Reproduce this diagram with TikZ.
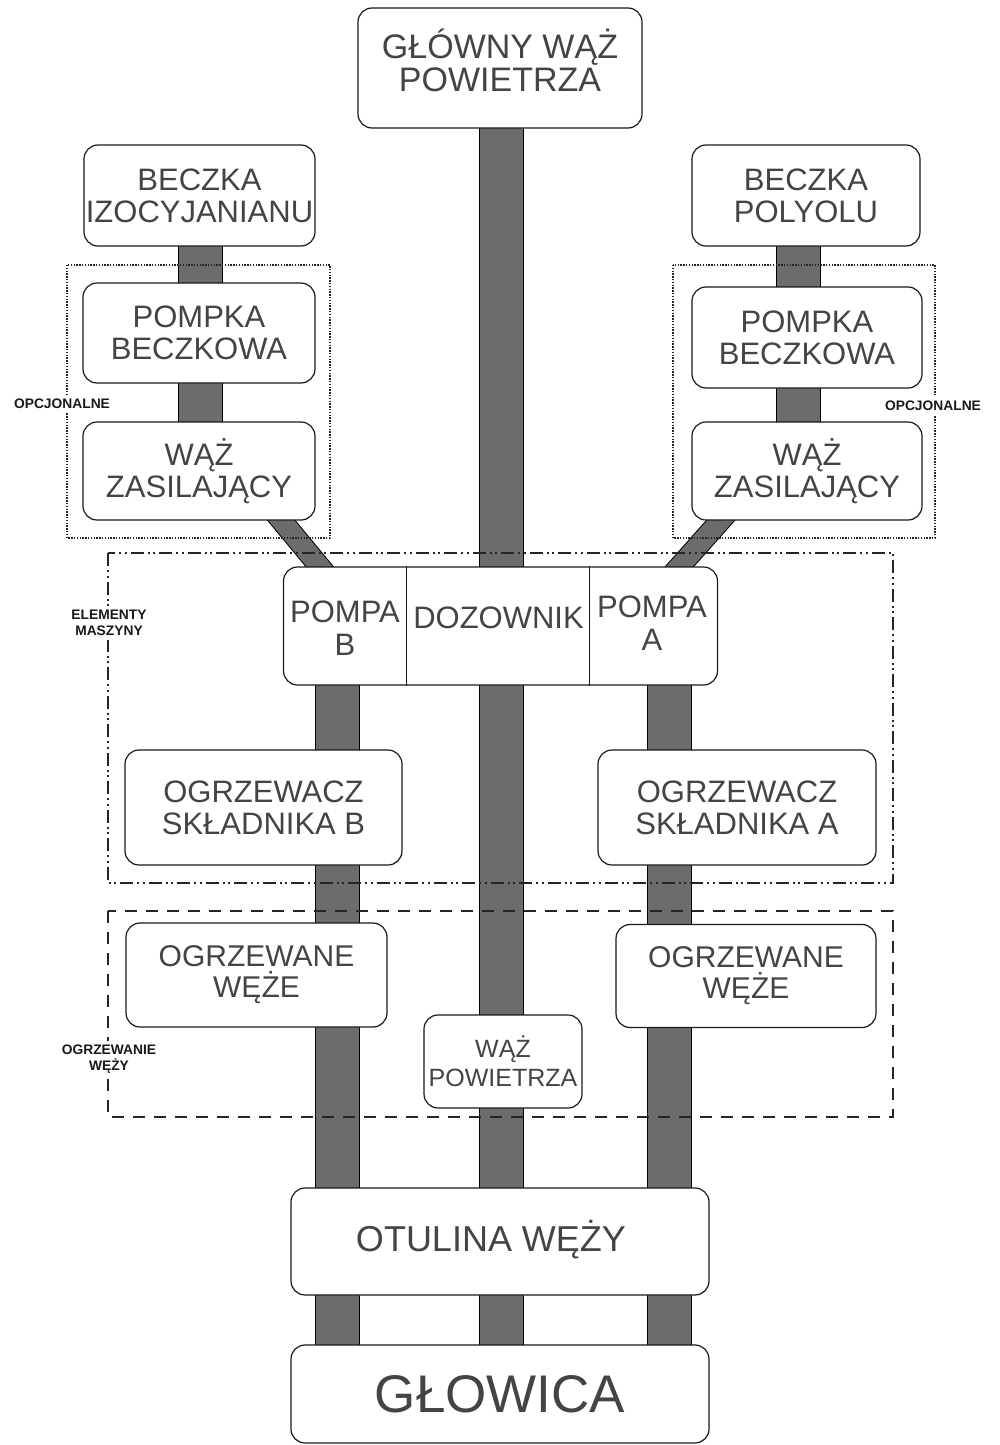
\documentclass[tikz,border=0pt]{standalone}
\usepackage{fontspec}
\setmainfont{Liberation Sans}
\usetikzlibrary{backgrounds}
\definecolor{txtgray}{RGB}{68,68,68}
\definecolor{pipegray}{RGB}{108,108,108}
\newcommand\myfs[2]{\fontsize{#1}{#2}\selectfont}
\begin{document}
\begin{tikzpicture}[x=1pt,y=-1pt,
  box/.style={draw=black!90, line width=1.2pt, rounded corners=14pt, fill=white,
    text=txtgray, align=center, inner sep=0pt, font=\myfs{31}{32}},
  txt/.style={text=txtgray, align=center, inner sep=0pt, font=\myfs{31}{33}},
  pipe/.style={draw=black, line width=1pt, double=pipegray, double distance=43pt},
  thinpipe/.style={draw=black, line width=1pt, double=pipegray, double distance=20pt},
  optframe/.style={draw=black!85, line width=1.1pt, dash pattern=on 1.4pt off 1.4pt},
  machframe/.style={draw=black!85, line width=1.1pt, dash pattern=on 13pt off 4pt on 2pt off 3.5pt on 2pt off 4pt},
  heatframe/.style={draw=black!85, line width=1.1pt, dash pattern=on 12pt off 9pt},
  lab/.style={fill=white, inner xsep=1pt, inner ysep=4pt, align=center, font=\bfseries\myfs{13.8}{16.5}, text=black!90}
]
\useasboundingbox (0,0) rectangle (1000,1445);

% group frames
\draw[optframe] (67,265) rectangle (330,538);
\draw[optframe] (673,265) rectangle (935,538);
\draw[machframe] (108,553) rectangle (893,883);
\draw[heatframe] (108,911) rectangle (893,1117);

% boxes
\node[box, minimum width=284pt, minimum height=120pt] (main) at (500,68) {};
\node[txt, font=\myfs{34}{33}] (mainT) at (500,60) {GŁÓWNY WĄŻ\\POWIETRZA};
\node[box, minimum width=231pt, minimum height=101pt] (izo) at (199.5,195.5) {BECZKA\\IZOCYJANIANU};
\node[box, minimum width=228pt, minimum height=101pt] (pol) at (806,195.5) {BECZKA\\POLYOLU};
\node[box, minimum width=232pt, minimum height=100pt] (pbL) at (199,333) {POMPKA\\BECZKOWA};
\node[box, minimum width=230pt, minimum height=101pt] (pbR) at (807,337.5) {POMPKA\\BECZKOWA};
\node[box, minimum width=232pt, minimum height=98pt] (wzL) at (199,471) {WĄŻ\\ZASILAJĄCY};
\node[box, minimum width=230pt, minimum height=98pt] (wzR) at (807,471) {WĄŻ\\ZASILAJĄCY};

\node[box, minimum width=434pt, minimum height=118pt] (pumps) at (500.5,626) {};
\draw[draw=black!90, line width=1.2pt] ([xshift=123.5pt]pumps.north west) coordinate (d1t) -- ([xshift=123.5pt]pumps.south west) coordinate (d1b);
\draw[draw=black!90, line width=1.2pt] ([xshift=306.5pt]pumps.north west) coordinate (d2t) -- ([xshift=306.5pt]pumps.south west) coordinate (d2b);
\node[txt] (pB) at (345,628) {POMPA\\B};
\node[txt] (doz) at (498.5,618) {DOZOWNIK};
\node[txt] (pA) at (652,623) {POMPA\\A};

\node[box, minimum width=277pt, minimum height=115pt] (ogB) at (263.5,807.5) {OGRZEWACZ\\SKŁADNIKA B};
\node[box, minimum width=278pt, minimum height=115pt] (ogA) at (737,807.5) {OGRZEWACZ\\SKŁADNIKA A};
\node[box, minimum width=261pt, minimum height=104pt, font=\myfs{30}{31}] (wgB) at (256.5,975) {OGRZEWANE\\WĘŻE};
\node[box, minimum width=260pt, minimum height=103pt, font=\myfs{30}{31}] (wgA) at (746,976) {OGRZEWANE\\WĘŻE};
\node[box, minimum width=158pt, minimum height=93pt, font=\myfs{25}{29}] (wazP) at (503,1061.5) {WĄŻ\\POWIETRZA};
\node[box, minimum width=418pt, minimum height=107pt] (otul) at (500,1241.5) {};
\node[txt, font=\myfs{36}{36}] (otulT) at (491,1240) {OTULINA WĘŻY};
\node[box, minimum width=418pt, minimum height=98pt, font=\myfs{53}{53}] (glow) at (500,1394) {GŁOWICA};

% labels
\node[lab] (lOptL) at (62,404) {OPCJONALNE};
\node[lab] (lOptR) at (933,406) {OPCJONALNE};
\node[lab] (lElem) at (109,623) {ELEMENTY\\MASZYNY};
\node[lab] (lOgrz) at (109,1059) {OGRZEWANIE\\WĘŻY};

% pipes
\coordinate (cx) at (501.5,0);
\coordinate (ltx) at (200,0);
\coordinate (rtx) at (798.5,0);
\coordinate (lbx) at (337.5,0);
\coordinate (rbx) at (669,0);
\begin{scope}[on background layer]
  \draw[pipe] (cx |- main.center) -- (cx |- glow.center);
  \draw[pipe] (ltx |- izo.center) -- (ltx |- wzL.center);
  \draw[pipe] (rtx |- pol.center) -- (rtx |- wzR.center);
  \draw[pipe] (lbx |- pumps.center) -- (lbx |- glow.center);
  \draw[pipe] (rbx |- pumps.center) -- (rbx |- glow.center);
  \draw[thinpipe] ([shift={(-46.5,-15)}]wzL.south east) -- ([shift={(51.5,18)}]pumps.north west);
  \draw[thinpipe] ([shift={(42.4,-15)}]wzR.south west) -- ([shift={(-54.5,18)}]pumps.north east);
\end{scope}
\end{tikzpicture}
\end{document}
